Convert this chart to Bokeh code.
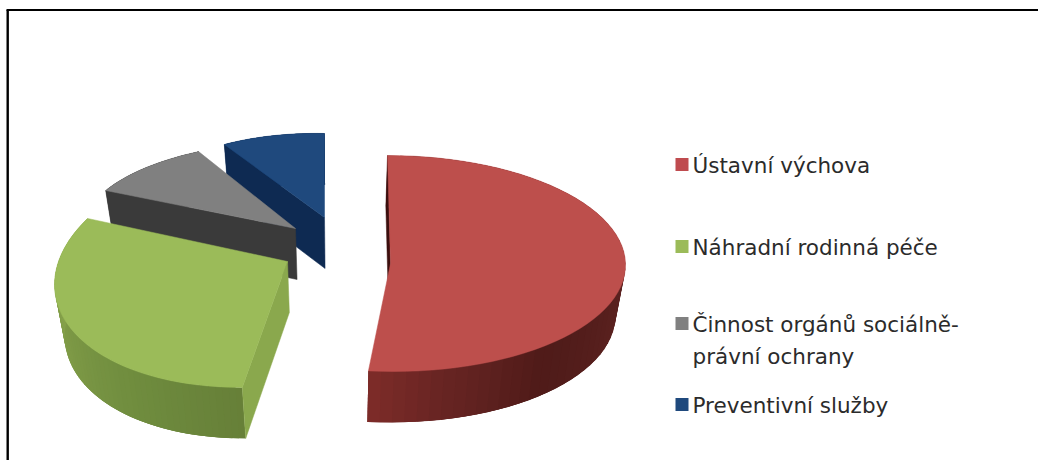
import numpy as np
from bokeh.plotting import figure
from bokeh.embed import file_html
from bokeh.resources import INLINE
from bokeh.core.properties import value

# ---- data ----
categories = ["Ústavní výchova", "Náhradní rodinná péče",
              "Činnost orgánů sociálně-\nprávní ochrany", "Preventivní služby"]
shares = [51.7, 29.3, 10.0, 9.0]

# ---- styles ----
top_colors = ["#bd4f4c", "#9bbb59", "#808080", "#1f497d"]
legend_colors = ["#bf4b4f", "#9bbb59", "#808080", "#1f497d"]
face_colors = ["#3c0f0e", "#8aa84d", "#3a3a3a", "#0e2a52"]
wall_stops = [
    [(0, "#5c2220"), (95, "#5c2220"), (140, "#4f1b19"), (170, "#6a2523"), (186, "#7e2c29")],
    [(185, "#667f38"), (215, "#6f8c3e"), (250, "#7f9b47"), (292, "#8fab50")],
    [(290, "#3a3a3a"), (330, "#3a3a3a")],
    [(325, "#0e2a52"), (360, "#0e2a52")],
]

# ---- layout of every exploded slice, in page pixels: apex, image of the
# (sin, cos) axes of the unit pie under the 3-D view, and outward bulge ----
apex = [(390, 263), (287, 261), (295, 228), (324, 217)]
u_axis = [(235, 0), (223.5, -3.7), (212, 6.4), (187, 3.9)]
v_axis = [(-3, -108), (21.5, -126.2), (19.8, -87), (0, -84)]
bulge = [0.0, 0.05, 0.0, 0.0]
vanish_x, shrink, depth = 340.0, 0.965, 51.0
draw_order = [3, 2, 1, 0]

legend_x, legend_size = 675, 13
legend_y = [164, 246, 323, 404]
text_x = 692
text_y = [[165], [247], [324, 356], [405]]

W, H = 1038, 460
p = figure(width=W, height=H, x_range=(0, W), y_range=(H, 0),
           output_backend="svg", toolbar_location=None, min_border=0,
           outline_line_color=None, background_fill_color="white")
p.axis.visible = False
p.grid.visible = False

edges = np.concatenate([[0], np.cumsum(shares)]) / np.sum(shares) * 360.0


def top_point(i, t, swell=0.0):
    r = np.radians(t)
    s, c = np.sin(r) * (1 + swell), np.cos(r) * (1 + swell)
    x = apex[i][0] + u_axis[i][0] * s + v_axis[i][0] * c
    y = apex[i][1] + u_axis[i][1] * s + v_axis[i][1] * c
    return x, y


def bottom_of(x, y):
    return vanish_x + shrink * (x - vanish_x), y + depth


def hex_rgb(h):
    return np.array([int(h[k:k + 2], 16) for k in (1, 3, 5)], float)


def wall_color(i, t):
    ts = [a for a, _ in wall_stops[i]]
    cols = np.array([hex_rgb(c) for _, c in wall_stops[i]])
    rgb = [np.interp(t, ts, cols[:, k]) for k in range(3)]
    return "#%02x%02x%02x" % tuple(int(round(v)) for v in rgb)


for i in draw_order:
    t0, t1 = edges[i], edges[i + 1]
    ts = np.linspace(t0, t1, 61)
    swell = bulge[i] * np.sin(np.pi * (ts - t0) / (t1 - t0))
    pts = [top_point(i, t, b) for t, b in zip(ts, swell)]
    xs = np.array([a for a, _ in pts])
    ys = np.array([b for _, b in pts])
    bx, by = bottom_of(xs, ys)

    # outer wall, in overlapping strips so that its shading varies along the arc
    qx, qy, qc = [], [], []
    for k in range(len(ts) - 1):
        e = min(k + 3, len(ts) - 1)
        qx.append([xs[k], xs[e], bx[e], bx[k]])
        qy.append([ys[k], ys[e], by[e], by[k]])
        qc.append(wall_color(i, 0.5 * (ts[k] + ts[k + 1])))
    p.patches(qx, qy, fill_color=qc, line_color=None)

    # radial face at the start of the slice
    ax, ay = apex[i]
    abx, aby = bottom_of(ax, ay)
    p.patch([ax, xs[0], bx[0], abx], [ay, ys[0], by[0], aby],
            fill_color=face_colors[i], line_color=face_colors[i], line_width=0.5)

    # top surface
    p.patch(np.r_[ax, xs], np.r_[ay, ys], fill_color=top_colors[i],
            line_color=top_colors[i], line_width=0.5)

# legend
half = legend_size / 2
for i, name in enumerate(categories):
    p.quad(left=[legend_x], right=[legend_x + legend_size],
           top=[legend_y[i] - half], bottom=[legend_y[i] + half],
           fill_color=legend_colors[i], line_color=None)
    for line, y in zip(name.split("\n"), text_y[i]):
        p.text([text_x], [y], text=[line], text_font=value("DejaVu Sans"),
               text_font_size="21.5px", text_color="#2b2b2b",
               text_baseline="middle", text_align="left")

# picture frame: left and top rule
p.line([7.2, 7.2], [9.5, H], line_color="black", line_width=2.4)
p.line([6, W], [9.5, 9.5], line_color="black", line_width=2.2)

open("out.html", "w").write(file_html(p, INLINE))
